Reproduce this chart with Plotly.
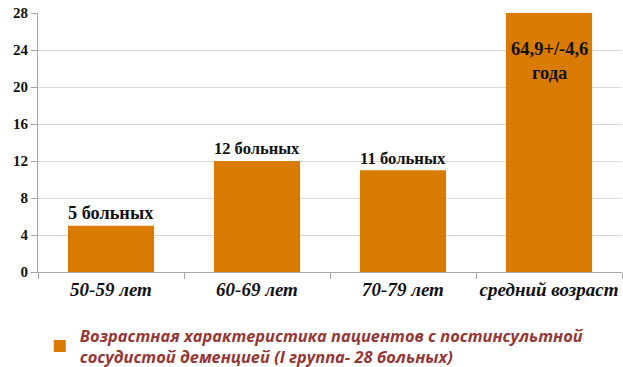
import plotly.graph_objects as go

categories = ["50-59 лет", "60-69 лет", "70-79 лет", "средний возраст"]
values = [5, 12, 11, 28]
bar_labels = ["5 больных", "12 больных", "11 больных", ""]
mean_label = "64,9+/-4,6<br>года"
mean_label_y = 22.8
series_name = "Возрастная характеристика пациентов с постинсультной<br>сосудистой деменцией (I группа- 28 больных)"
y_ticks = [0, 4, 8, 12, 16, 20, 24, 28]

bar_color = "#D97B00"
serif = "Liberation Serif, Times New Roman, serif"

fig = go.Figure()
fig.add_trace(go.Bar(
    x=categories, y=values, name=series_name,
    marker=dict(color=bar_color, line=dict(width=0)),
    text=bar_labels, textposition="outside", cliponaxis=False,
    texttemplate="<b>%{text}</b>",
    textfont=dict(family=serif, size=18.5, color="#111111"),
    showlegend=True,
))

fig.add_annotation(
    x=categories[3], y=mean_label_y, text="<b>" + mean_label + "</b>", showarrow=False,
    font=dict(family=serif, size=18.5, color="#111111"),
    yanchor="middle", xanchor="center",
)

fig.update_layout(
    width=623, height=367,
    margin=dict(l=38, r=1, t=13, b=95),
    paper_bgcolor="white", plot_bgcolor="white",
    bargap=0.41,
    showlegend=True,
    legend=dict(
        x=0.003, xref="paper", y=0.133, yref="container", xanchor="left", yanchor="top",
        font=dict(family="Open Sans", size=16.4, color="#953735", style="italic", weight="bold"),
        bgcolor="rgba(0,0,0,0)", itemsizing="constant",
    ),
    xaxis=dict(
        type="category", tickson="boundaries", ticks="outside", ticklen=6,
        tickangle=0, automargin=False,
        tickcolor="#a6a6a6", showline=True, linecolor="#a6a6a6", linewidth=1,
        showgrid=False,
        tickfont=dict(family=serif, size=19, color="#111111", style="italic", weight="bold"),
    ),
    yaxis=dict(
        range=[0, 28], tickvals=y_ticks, ticks="outside", ticklen=6, automargin=False,
        tickcolor="#a6a6a6", showline=True, linecolor="#a6a6a6", linewidth=1,
        showgrid=True, gridcolor="#d9d9d9", gridwidth=1, zeroline=False,
        tickfont=dict(family=serif, size=15, color="#111111", weight="bold"),
    ),
)

fig.write_html("out.html")
